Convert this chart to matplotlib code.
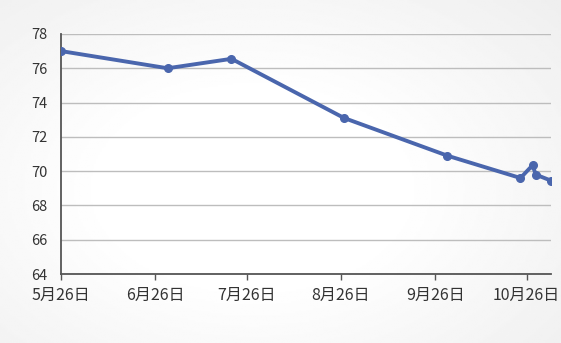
import datetime as dt
import numpy as np
import matplotlib
matplotlib.use("Agg")
import matplotlib.pyplot as plt
import matplotlib.dates as mdates
from matplotlib.ticker import FuncFormatter, MultipleLocator

plt.rcParams["font.family"] = ["Noto Sans CJK SC", "DejaVu Sans"]

# data
dates = ["2014-05-26", "2014-06-30", "2014-07-21", "2014-08-27", "2014-09-30",
         "2014-10-24", "2014-10-28", "2014-10-29", "2014-11-03"]
values = [77.0, 76.0, 76.55, 73.1, 70.9, 69.6, 70.35, 69.8, 69.45]
tick_dates = ["2014-05-26", "2014-06-26", "2014-07-26", "2014-08-26", "2014-09-26", "2014-10-26"]

x = [dt.datetime.strptime(d, "%Y-%m-%d") for d in dates]
xt = [dt.datetime.strptime(d, "%Y-%m-%d") for d in tick_dates]

fig = plt.figure(figsize=(5.61, 3.43), dpi=100)

# soft background shading like the original picture
bg = fig.add_axes([0, 0, 1, 1], zorder=-10)
yy, xx = np.mgrid[0:1:200j, 0:1:300j]
r = np.sqrt(((xx - 0.45) / 0.75) ** 2 + ((yy - 0.55) / 0.8) ** 2)
shade = 1 - 0.10 * np.clip(r - 0.35, 0, 1)
bg.imshow(shade, cmap="gray", vmin=0, vmax=1, aspect="auto", extent=[0, 1, 0, 1])
bg.axis("off")

ax = fig.add_axes([0.109, 0.201, 0.873, 0.70])
ax.patch.set_alpha(0)
ax.plot(x, values, color="#4a66ad", lw=2.8, marker="o", ms=5.5, zorder=3,
        solid_joinstyle="round")

ax.set_ylim(64, 78)
ax.yaxis.set_major_locator(MultipleLocator(2))
ax.set_xlim(xt[0], x[-1])
ax.set_xticks(xt)
ax.xaxis.set_major_formatter(FuncFormatter(
    lambda v, p: "%d月%d日" % (mdates.num2date(v).month, mdates.num2date(v).day)))

ax.grid(axis="y", color="#bdbdbd", lw=1)
ax.set_axisbelow(True)
for s in ["top", "right"]:
    ax.spines[s].set_visible(False)
for s in ["left", "bottom"]:
    ax.spines[s].set_color("#555555")
    ax.spines[s].set_linewidth(1.3)
ax.tick_params(axis="y", length=0, pad=10, labelsize=10.5, colors="#333333")
ax.tick_params(axis="x", length=4, width=1, color="#555555", pad=5,
               labelsize=11.5, labelcolor="#333333")

fig.savefig("out.png", dpi=100)
